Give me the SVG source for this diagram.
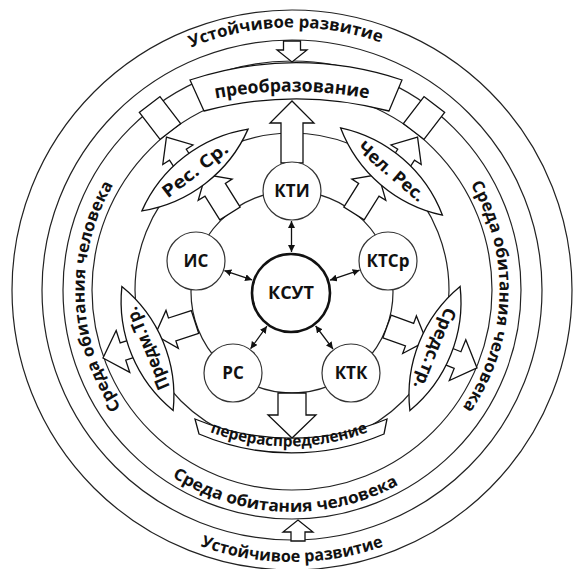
<svg xmlns="http://www.w3.org/2000/svg" width="573" height="569" viewBox="0 0 573 569">
<style>
.ring{fill:none;stroke:#222;stroke-width:1.2}
.blk{fill:#fff;stroke:#111;stroke-width:1.3;stroke-linejoin:miter}
.t{font-family:"Open Sans","Noto Sans",sans-serif;font-weight:700;fill:#111}
.node{fill:#fff;stroke:#333;stroke-width:1.2}
.core{fill:#fff;stroke:#111;stroke-width:2.6}
.link{stroke:#111;stroke-width:1.3;fill:none;marker-start:url(#ah);marker-end:url(#ah)}
</style>
<defs>
<marker id="ah" viewBox="0 0 10 10" refX="10" refY="5" markerWidth="7" markerHeight="7" markerUnits="userSpaceOnUse" orient="auto-start-reverse"><path d="M0,0 L10,5 L0,10 Z" fill="#111"/></marker>
<path id="pTop" d="M85.4,127.0 A265,265 0 0 1 490.5,116.4"/>
<path id="pBot" d="M83.6,464.8 A272,272 0 0 0 500.4,464.8"/>
<path id="pBotS" d="M117.1,426.7 A222,222 0 0 0 457.0,438.5"/>
<path id="pLeft" d="M164.6,453.1 A206,206 0 0 1 153.5,136.2"/>
<path id="pRight" d="M430.5,136.2 A206,206 0 0 1 419.4,453.1"/>
<path id="pPre" d="M208,100 A420,420 0 0 1 376,100"/>
<path id="pPer" d="M205,430 A223,223 0 0 0 373,430"/>
<path id="lens" d="M-67,0 A140.6,140.6 0 0 1 67,0 A140.6,140.6 0 0 1 -67,0 Z"/>
</defs>
<rect width="573" height="569" fill="#fff"/>
<g id="rings">
<circle class="ring" cx="292" cy="290" r="280"/>
<circle class="ring" cx="292" cy="290" r="250"/>
<circle class="ring" cx="292" cy="290" r="229"/>
<circle class="ring" cx="292" cy="290" r="200"/>
<circle class="ring" cx="292" cy="290" r="157"/>
<circle class="ring" cx="292" cy="292" r="101"/>
</g>
<g id="connectors">
<g id="block-arrows">
<polygon class="blk" points="0,-11 40,-11 40,-22 62,0 40,22 40,11 0,11" transform="translate(292,163) rotate(-90)"/>
<polygon class="blk" points="0,-14 22,-14 22,-24 45,0 22,24 22,14 0,14" transform="translate(292,393) rotate(90)"/>
<polygon class="blk" points="0,-8.5 9,-8.5 9,-15 21,0 9,15 9,8.5 0,8.5" transform="translate(292,41) rotate(90)"/>
<polygon class="blk" points="0,-7 9,-7 9,-15 21,0 9,15 9,7 0,7" transform="translate(298,541) rotate(-90)"/>
<polygon class="blk" points="0,-12 28,-12 28,-20 46,0 28,20 28,12 0,12" transform="translate(230,213.5) rotate(-122)"/>
<polygon class="blk" points="0,-10 25,-10 25,-18 46,0 25,18 25,10 0,10" transform="translate(191.5,175.7) rotate(-123)"/>
<polygon class="blk" points="0,-12 28,-12 28,-20 46,0 28,20 28,12 0,12" transform="translate(354,213.5) rotate(-58)"/>
<polygon class="blk" points="0,-10 25,-10 25,-18 46,0 25,18 25,10 0,10" transform="translate(392.5,175.7) rotate(-57)"/>
<polygon class="blk" points="0,-12 24,-12 24,-20 42,0 24,20 24,12 0,12" transform="translate(195,322) rotate(162)"/>
<polygon class="blk" points="0,-9 24,-9 24,-22 45,0 24,22 24,9 0,9" transform="translate(145.8,344.1) rotate(162)"/>
<polygon class="blk" points="0,-12 24,-12 24,-20 42,0 24,20 24,12 0,12" transform="translate(387,326.5) rotate(20)"/>
<polygon class="blk" points="0,-9 24,-9 24,-22 45,0 24,22 24,9 0,9" transform="translate(435.3,351.1) rotate(22)"/>
<rect class="blk" x="-17" y="-13" width="34" height="26" transform="translate(160,118) rotate(-127.5)"/>
<rect class="blk" x="-17" y="-13" width="34" height="26" transform="translate(424,118) rotate(-52.5)"/>
</g>
<g id="links">
<line class="link" x1="291.5" y1="252" x2="291.5" y2="221"/>
<line class="link" x1="330" y1="280.2" x2="359.6" y2="270.2"/>
<line class="link" x1="252.1" y1="279.9" x2="224.4" y2="270.6"/>
<line class="link" x1="266.9" y1="326.2" x2="250.6" y2="348.7"/>
<line class="link" x1="315.6" y1="325.8" x2="333" y2="349"/>
</g>
</g>
<g id="lens-res-sr"><use href="#lens" class="blk" transform="translate(195,170) rotate(-37.6)"/>
<text class="t" font-size="17.5" text-anchor="middle" y="6" textLength="78" lengthAdjust="spacingAndGlyphs" transform="translate(195,170) rotate(-37.6)">Рес. Ср.</text></g>
<g id="lens-chel-res"><use href="#lens" class="blk" transform="translate(391.5,171.5) rotate(40.6)"/>
<text class="t" font-size="17.5" text-anchor="middle" y="6" textLength="82" lengthAdjust="spacingAndGlyphs" transform="translate(391.5,171.5) rotate(40.6)">Чел. Рес.</text></g>
<g id="lens-predm-tr"><use href="#lens" class="blk" transform="translate(147.5,348.5) rotate(-112.5)"/>
<text class="t" font-size="17.5" text-anchor="middle" y="6" textLength="88" lengthAdjust="spacingAndGlyphs" transform="translate(147.5,348.5) rotate(-112.5)">Предм.Тр.</text></g>
<g id="lens-sreds-tr"><use href="#lens" class="blk" transform="translate(435,348.5) rotate(112)"/>
<text class="t" font-size="17.5" text-anchor="middle" y="6" textLength="86" lengthAdjust="spacingAndGlyphs" transform="translate(435,348.5) rotate(112)">Средс.тр.</text></g>
<g id="box-preobrazovanie"><path class="blk" d="M190,80 A333,333 0 0 1 402,80 L389,111 A362,362 0 0 0 204,111 Z"/>
<text class="t" font-size="18"><textPath href="#pPre" startOffset="50%" text-anchor="middle" textLength="154" lengthAdjust="spacingAndGlyphs">преобразование</textPath></text></g>
<g id="box-pereraspredelenie"><path class="blk" d="M195,419 A250,250 0 0 0 387,419 L384,434 A235,235 0 0 1 199,434 Z"/>
<text class="t" font-size="15.5"><textPath href="#pPer" startOffset="50%" text-anchor="middle" textLength="162" lengthAdjust="spacingAndGlyphs">перераспределение</textPath></text></g>
<g id="ring-labels">
<text class="t" font-size="16.5"><textPath href="#pTop" startOffset="50%" text-anchor="middle" textLength="194" lengthAdjust="spacingAndGlyphs">Устойчивое развитие</textPath></text>
<text class="t" font-size="16.5"><textPath href="#pBot" startOffset="50%" text-anchor="middle" textLength="187" lengthAdjust="spacingAndGlyphs">Устойчивое развитие</textPath></text>
<text class="t" font-size="16.5"><textPath href="#pBotS" startOffset="50%" text-anchor="middle" textLength="238" lengthAdjust="spacingAndGlyphs">Среда обитания человека</textPath></text>
<text class="t" font-size="16.5"><textPath href="#pLeft" startOffset="50%" text-anchor="middle" textLength="235" lengthAdjust="spacingAndGlyphs">Среда обитания человека</textPath></text>
<text class="t" font-size="16.5"><textPath href="#pRight" startOffset="50%" text-anchor="middle" textLength="236" lengthAdjust="spacingAndGlyphs">Среда обитания человека</textPath></text>
</g>
<g id="node-kti"><circle class="node" cx="292" cy="191" r="29"/><text class="t" font-size="17" x="292" y="197" text-anchor="middle">КТИ</text></g>
<g id="node-ktsr"><circle class="node" cx="388" cy="261" r="29"/><text class="t" font-size="17" x="388" y="267" text-anchor="middle">КТСр</text></g>
<g id="node-ktk"><circle class="node" cx="351" cy="373" r="29"/><text class="t" font-size="17" x="351" y="379" text-anchor="middle">КТК</text></g>
<g id="node-rs"><circle class="node" cx="233" cy="373" r="29"/><text class="t" font-size="17" x="233" y="379" text-anchor="middle">РС</text></g>
<g id="node-is"><circle class="node" cx="196" cy="261" r="29"/><text class="t" font-size="17" x="196" y="267" text-anchor="middle">ИС</text></g>
<g id="node-ksut"><circle class="core" cx="291" cy="293" r="39"/><text class="t" font-size="18" x="291" y="299" text-anchor="middle">КСУТ</text></g>
</svg>
